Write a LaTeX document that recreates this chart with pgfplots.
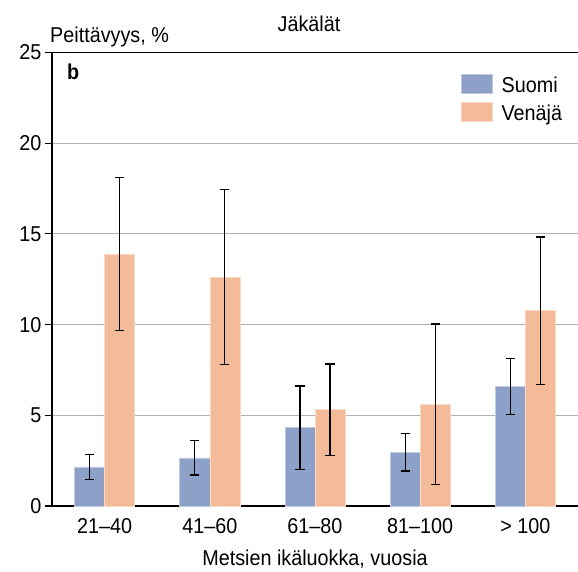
\documentclass[border=0pt]{standalone}
\usepackage{fontspec}
\setmainfont{Liberation Sans}[FakeStretch=0.92]
\usepackage{pgfplots}
\pgfplotsset{compat=1.18}
\definecolor{suomi}{HTML}{8DA1C8}
\definecolor{venaja}{HTML}{F4BB98}
\definecolor{gridgray}{HTML}{B0B0B0}
\newcommand{\chartfont}{\fontsize{21.5bp}{25bp}\selectfont}
\begin{document}
\begin{tikzpicture}[font=\chartfont]
\useasboundingbox (-52bp,-66bp) rectangle (526bp,506bp);
\begin{axis}[
  scale only axis,
  width=526bp, height=453.5bp,
  clip=false,
  ybar, ybar=0pt, bar width=30bp,
  xmin=-0.5, xmax=4.5,
  ymin=0, ymax=25,
  xtick={0,1,2,3,4},
  xticklabels={21–40,41–60,61–80,81–100,> 100},
  ytick={0,5,10,15,20,25},
  axis lines=left,
  axis line style={-, black, line width=1.2bp},
  x axis line style={-},
  y axis line style={-},
  xtick style={draw=none},
  ytick style={black, line width=1.2bp},
  tick align=outside,
  major tick length=7bp,
  ymajorgrids,
  grid style={gridgray, line width=1bp},
  /pgf/number format/assume math mode=true,
  ticklabel style={font=\chartfont},
  xticklabel style={yshift=-2.4bp},
  xlabel={Metsien ikäluokka, vuosia},
  every axis x label/.style={at={(axis description cs:0.5,0)}, anchor=base, yshift=-59.5bp},
  legend style={at={(rel axis cs:0.7776,1)}, anchor=north west, yshift=-22bp,
    draw=none, fill=none, inner sep=0pt, outer sep=0pt, row sep=8.5bp,
    column sep=0pt,
    nodes={inner sep=0pt, outer sep=0pt},
    font=\chartfont},
  legend cell align=left,
  legend image code/.code={\fill[#1] (0bp,-8.25bp) rectangle (30.7bp,10.45bp); \path (40bp,0bp);},
  error bars/y dir=both,
  error bars/y explicit,
  error bars/error bar style={line width=1.2bp, black},
  error bars/error mark options={rotate=90, mark size=4.65bp, line width=1.2bp, black},
]
\addplot[fill=suomi, draw=suomi!55!white, line width=0.6bp] table[x=x, y=y, y error plus=ep, y error minus=em] {
x y ep em
0 2.15 0.70 0.70
1 2.65 0.97 0.94
2 4.32 2.30 2.30
3 2.96 1.03 1.03
4 6.60 1.55 1.54
};
\addlegendentry{Suomi}
\addplot[fill=venaja, draw=venaja!55!white, line width=0.6bp] table[x=x, y=y, y error plus=ep, y error minus=em] {
x y ep em
0 13.90 4.22 4.21
1 12.60 4.85 4.80
2 5.32 2.51 2.52
3 5.61 4.42 4.41
4 10.77 4.06 4.06
};
\addlegendentry{Venäjä}
\draw[black, line width=1.2bp] (rel axis cs:0,1) -- (rel axis cs:1,1);
\node[anchor=base west, inner sep=0pt, xshift=-2bp, yshift=10.2bp] at (rel axis cs:0,1) {Peittävyys, \%};
\node[anchor=base, inner sep=0pt, xshift=-6bp, yshift=21bp] at (rel axis cs:0.5,1) {Jäkälät};
\node[anchor=base west, inner sep=0pt, xshift=15bp, yshift=-27.5bp, font=\chartfont\bfseries] at (rel axis cs:0,1) {b};
\end{axis}
\end{tikzpicture}
\end{document}
